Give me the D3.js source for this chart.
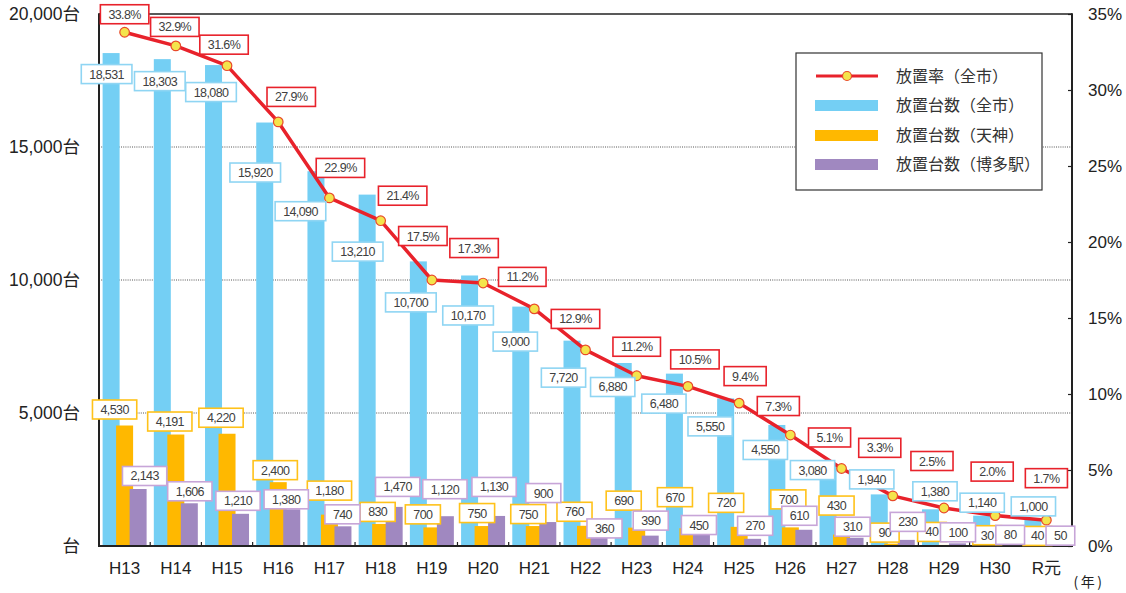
<!DOCTYPE html>
<html>
<head>
<meta charset="utf-8">
<script src="https://cdn.jsdelivr.net/npm/d3@7"></script>
<style>
  html, body { margin: 0; padding: 0; background: #fff; }
  svg { display: block; }
</style>
</head>
<body>
<svg id="chart" width="1126" height="593"></svg>
<script>
// ---------------- DATA ----------------
const categories = ["H13","H14","H15","H16","H17","H18","H19","H20","H21","H22","H23","H24","H25","H26","H27","H28","H29","H30","R元"];
const totalCount  = [18531,18303,18080,15920,14090,13210,10700,10170,9000,7720,6880,6480,5550,4550,3080,1940,1380,1140,1000];
const tenjinCount = [4530,4191,4220,2400,1180,830,700,750,750,760,690,670,720,700,430,90,40,30,40];
const hakataCount = [2143,1606,1210,1380,740,1470,1120,1130,900,360,390,450,270,610,310,230,100,80,50];
const rate        = [33.8,32.9,31.6,27.9,22.9,21.4,17.5,17.3,15.6,12.9,11.2,10.5,9.4,7.3,5.1,3.3,2.5,2.0,1.7];
const rateLabels  = ["33.8%","32.9%","31.6%","27.9%","22.9%","21.4%","17.5%","17.3%","11.2%","12.9%","11.2%","10.5%","9.4%","7.3%","5.1%","3.3%","2.5%","2.0%","1.7%"];
const leftTicks   = [0,5000,10000,15000,20000];
const rightTicks  = [0,5,10,15,20,25,30,35];
const gridTicks   = [5000,10000,15000];
const seriesNames = ["放置率（全市）","放置台数（全市）","放置台数（天神）","放置台数（博多駅）"];
const unitLabel   = "(年)";

// ---------------- LAYOUT (label placement offsets, px) ----------------
const blueLabelOff = [[-18,21],[-16,22],[-16,27],[-23,50],[-29,40],[-23,57],[-21,41],[-15,40],[-19,35],[-22,37],[-24,24],[-24,30],[-29,28],[-25,25],[-29,6],[-21,-15],[-9,-18],[-13,-13],[-13,-13]];
const rateLabelOff = [[0,-18],[-1,-19],[-3,-21],[13,-25],[11,-30],[22,-25],[-9,-44],[-9,-35],[-12,-32],[-10,-31],[0,-29],[7,-27],[6,-27],[-12,-29],[-12,-31],[-13,-48],[-12,-47],[-3,-44],[0,-42]];
const orangeLabelOff = [[-10,-16],[-6,-13],[-6,-16],[-3,-12],[0,-24],[-3,-12],[-9,-13],[-6,-13],[-6,-12],[-11,-14],[-13,-27],[-13,-31],[-13,-24],[-2,-28],[-5,-29],[-8,-11],[-12,-13],[-8,-10],[-9,-9]];
const purpleLabelOff = [[20,-13],[14,-12],[11,-13],[8,-10],[13,-12],[17,-20],[13,-27],[11,-29],[9,-29],[19,-8],[14,-15],[11,-9],[16,-13],[9,-14],[11,-11],[15,-18],[14,-11],[15,-9],[14,-9]];

const C = {
  blue: "#74cff4", orange: "#ffb800", purple: "#a088c0", red: "#e8222b",
  blueBox: "#8fd5f3", orangeBox: "#ffc21a", purpleBox: "#c7a5d8", redBox: "#e8222b",
  dot: "#f4e44c", axis: "#222", text: "#222"
};

const svg = d3.select("#chart");
const plot = {left: 99, right: 1072, top: 14, bottom: 546};

const x = d3.scaleBand().domain(categories).range([plot.left, plot.right]).padding(0);
const yL = d3.scaleLinear().domain([0, 20000]).range([plot.bottom, plot.top]);
const yR = d3.scaleLinear().domain([0, 35]).range([plot.bottom, plot.top]);
const cx = c => x(c) + x.bandwidth() / 2;

const barW = 17, barStep = 13.5;

// gridlines
svg.append("g").selectAll("line").data(gridTicks).join("line")
  .attr("x1", plot.left).attr("x2", plot.right)
  .attr("y1", d => yL(d)).attr("y2", d => yL(d))
  .attr("stroke", "#555").attr("stroke-width", 1).attr("stroke-dasharray", "1,1.2");

// bars
const series = [
  {vals: totalCount, color: C.blue, off: -1},
  {vals: tenjinCount, color: C.orange, off: 0},
  {vals: hakataCount, color: C.purple, off: 1}
];
series.forEach(s => {
  svg.append("g").selectAll("rect").data(categories).join("rect")
    .attr("x", (c) => cx(c) + s.off * barStep - barW / 2)
    .attr("width", barW)
    .attr("y", (c, i) => yL(s.vals[i]))
    .attr("height", (c, i) => plot.bottom - yL(s.vals[i]))
    .attr("fill", s.color);
});

// frame / axes
const leftAxis = d3.axisLeft(yL).tickValues(leftTicks).tickSize(0).tickPadding(19)
  .tickFormat(d => d === 0 ? "台" : d3.format(",")(d) + "台");
const gL = svg.append("g").attr("transform", `translate(${plot.left},0)`).call(leftAxis);
gL.select(".domain").remove();
gL.selectAll("text").attr("font-family", "'Liberation Sans', Arial, 'Noto Sans CJK JP', sans-serif")
  .attr("font-size", 17.5).attr("fill", C.text);

const rightAxis = d3.axisRight(yR).tickValues(rightTicks).tickSizeInner(-4).tickSizeOuter(0).tickPadding(16)
  .tickFormat(d => d + "%");
const gR = svg.append("g").attr("transform", `translate(${plot.right},0)`).call(rightAxis);
gR.select(".domain").remove();
gR.selectAll("line").attr("stroke", C.axis).attr("stroke-width", 1.2);
gR.selectAll("text").attr("font-family", "'Liberation Sans', Arial, sans-serif")
  .attr("font-size", 17).attr("fill", C.text);

const bottomAxis = d3.axisBottom(x).tickSize(0).tickPadding(16);
const gB = svg.append("g").attr("transform", `translate(0,${plot.bottom})`).call(bottomAxis);
gB.select(".domain").remove();
gB.selectAll("text").attr("font-family", "'Liberation Sans', Arial, 'Noto Sans CJK JP', sans-serif")
  .attr("font-size", 17).attr("fill", C.text);

// boundary ticks
svg.append("g").selectAll("line").data(categories.slice(1)).join("line")
  .attr("x1", c => x(c)).attr("x2", c => x(c))
  .attr("y1", plot.bottom).attr("y2", plot.bottom - 4)
  .attr("stroke", C.axis).attr("stroke-width", 1.2);

const frame = svg.append("g").attr("stroke", C.axis).attr("fill", "none");
frame.append("line").attr("x1", plot.left).attr("x2", plot.right).attr("y1", plot.top).attr("y2", plot.top).attr("stroke-width", 1.5);
frame.append("line").attr("x1", plot.left).attr("x2", plot.left).attr("y1", plot.top - 0.75).attr("y2", plot.bottom + 1).attr("stroke-width", 2);
frame.append("line").attr("x1", plot.right).attr("x2", plot.right).attr("y1", plot.top - 0.75).attr("y2", plot.bottom + 1).attr("stroke-width", 2);
frame.append("line").attr("x1", plot.left - 1).attr("x2", plot.right + 1).attr("y1", plot.bottom).attr("y2", plot.bottom).attr("stroke-width", 2);

svg.append("text").attr("x", 1089).attr("y", 587)
  .attr("font-family", "'Noto Sans CJK JP', sans-serif").attr("font-size", 14)
  .attr("letter-spacing", 2.5).attr("text-anchor", "middle").attr("fill", C.text).text(unitLabel);

// rate line
const line = d3.line().x((d, i) => cx(categories[i])).y(d => yR(d));
svg.append("path").datum(rate).attr("d", line)
  .attr("fill", "none").attr("stroke", C.red).attr("stroke-width", 3.5).attr("stroke-linejoin", "round");
svg.append("g").selectAll("circle").data(rate).join("circle")
  .attr("cx", (d, i) => cx(categories[i])).attr("cy", d => yR(d)).attr("r", 4.8)
  .attr("fill", C.dot).attr("stroke", "#e84a2a").attr("stroke-width", 1.2);

// value label boxes
function drawLabel(g, px, py, txt, stroke) {
  const lg = g.append("g");
  const t = lg.append("text").attr("x", px).attr("y", py + 4.5)
    .attr("text-anchor", "middle")
    .attr("font-family", "'Liberation Sans', Arial, sans-serif")
    .attr("font-size", 12.5).attr("letter-spacing", -0.6)
    .attr("fill", "#404040").text(txt);
  const w = t.node().getComputedTextLength() + 16;
  lg.insert("rect", "text").attr("x", px - w / 2).attr("y", py - 9.5)
    .attr("width", w).attr("height", 19)
    .attr("fill", "#fff").attr("stroke", stroke).attr("stroke-width", 1.6);
}
const labels = svg.append("g");
const fmt = d3.format(",");
categories.forEach((c, i) => {
  drawLabel(labels, cx(c) + blueLabelOff[i][0], yL(totalCount[i]) + blueLabelOff[i][1], fmt(totalCount[i]), C.blueBox);
});
categories.forEach((c, i) => {
  drawLabel(labels, cx(c) + orangeLabelOff[i][0], yL(tenjinCount[i]) + orangeLabelOff[i][1], fmt(tenjinCount[i]), C.orangeBox);
});
categories.forEach((c, i) => {
  drawLabel(labels, cx(c) + purpleLabelOff[i][0], yL(hakataCount[i]) + purpleLabelOff[i][1], fmt(hakataCount[i]), C.purpleBox);
});
categories.forEach((c, i) => {
  drawLabel(labels, cx(c) + rateLabelOff[i][0], yR(rate[i]) + rateLabelOff[i][1], rateLabels[i], C.redBox);
});

// legend
const lg = svg.append("g");
lg.append("rect").attr("x", 796).attr("y", 53).attr("width", 246).attr("height", 137)
  .attr("fill", "#fff").attr("stroke", "#333").attr("stroke-width", 1.2);
const rowY = [76, 105.5, 135.5, 164.5];
lg.append("line").attr("x1", 816).attr("x2", 878).attr("y1", rowY[0]).attr("y2", rowY[0])
  .attr("stroke", C.red).attr("stroke-width", 3);
lg.append("circle").attr("cx", 847).attr("cy", rowY[0]).attr("r", 4.5)
  .attr("fill", C.dot).attr("stroke", "#e84a2a").attr("stroke-width", 1.2);
[C.blue, C.orange, C.purple].forEach((col, k) => {
  lg.append("rect").attr("x", 815).attr("y", rowY[k + 1] - 5.5).attr("width", 63).attr("height", 11)
    .attr("fill", col);
});
seriesNames.forEach((n, k) => {
  lg.append("text").attr("x", 896).attr("y", rowY[k]).attr("dy", "0.36em")
    .attr("font-family", "'Noto Sans CJK JP', sans-serif").attr("font-size", 16)
    .attr("fill", "#333").text(n);
});
</script>
</body>
</html>
